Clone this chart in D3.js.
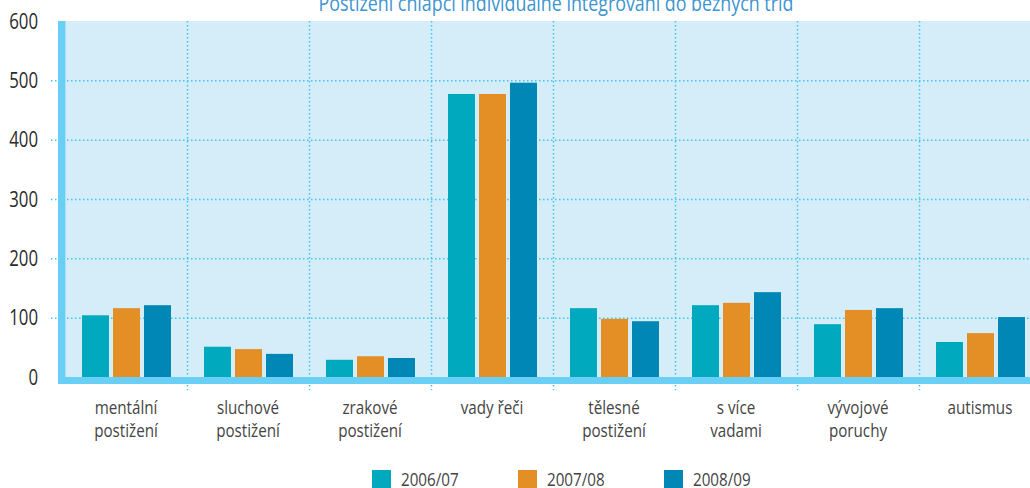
<!DOCTYPE html>
<html>
<head>
<meta charset="utf-8">
<script src="https://cdn.jsdelivr.net/npm/d3@7"></script>
<style>
  html, body { margin: 0; padding: 0; background: #fff; }
  svg { display: block; font-family: "Open Sans", "Liberation Sans", sans-serif; }
</style>
</head>
<body>
<svg id="chart" width="1030" height="488"></svg>
<script>
// chart data
const title = "Postižení chlapci individuálně integrovaní do běžných tříd";
const categories = [
    ["mentální", "postižení"],
    ["sluchové", "postižení"],
    ["zrakové", "postižení"],
    ["vady řeči"],
    ["tělesné", "postižení"],
    ["s více", "vadami"],
    ["vývojové", "poruchy"],
    ["autismus"]
];
const seriesNames = ["2006/07", "2007/08", "2008/09"];
const values2006 = [104, 51, 29, 477, 116, 121, 89, 59];
const values2007 = [116, 47, 35, 477, 98, 125, 113, 74];
const values2008 = [121, 39, 32, 496, 94, 143, 116, 101];
const yTicks = [0, 100, 200, 300, 400, 500, 600];

const colors = ["#00a9bd", "#e38f26", "#0087b5"];
const allValues = [values2006, values2007, values2008];

// the original uses a condensed face, so squeeze the text horizontally
const squeeze = 0.8;
const place = (x, y, k = squeeze) => `translate(${x},${y}) scale(${k},1)`;

const svg = d3.select("#chart");

// plot frame
const plotLeft = 65, plotRight = 1041, plotTop = 21, plotBottom = 377;

const x = d3.scaleBand()
    .domain(d3.range(categories.length))
    .range([plotLeft, plotRight])
    .paddingInner(0)
    .paddingOuter(0);

const xInner = d3.scaleBand()
    .domain(d3.range(seriesNames.length))
    .range([17, 106])
    .paddingInner(0.129)
    .paddingOuter(0);

const y = d3.scaleLinear()
    .domain([0, 600])
    .range([plotBottom, plotTop]);

// background
svg.append("rect")
    .attr("x", plotLeft)
    .attr("y", plotTop)
    .attr("width", 1030 - plotLeft)
    .attr("height", plotBottom - plotTop)
    .attr("fill", "#d5ecf9");

// horizontal grid
svg.append("g")
    .selectAll("line")
    .data(yTicks.filter(d => d > 0 && d < 600))
    .join("line")
    .attr("x1", 51)
    .attr("x2", 1030)
    .attr("y1", d => y(d) + 0.5)
    .attr("y2", d => y(d) + 0.5)
    .attr("stroke", "#3fc6ef")
    .attr("stroke-width", 1.5)
    .attr("stroke-dasharray", "1.5,2.5");

// vertical grid at category boundaries
svg.append("g")
    .selectAll("line")
    .data(d3.range(1, categories.length))
    .join("line")
    .attr("x1", d => x(d) + 0.5)
    .attr("x2", d => x(d) + 0.5)
    .attr("y1", plotTop)
    .attr("y2", 390)
    .attr("stroke", "#3fc6ef")
    .attr("stroke-width", 1.5)
    .attr("stroke-dasharray", "1.5,2.5");

// bars
const groups = svg.append("g")
    .selectAll("g")
    .data(categories)
    .join("g")
    .attr("transform", (d, i) => `translate(${x(i)},0)`);

groups.selectAll("rect")
    .data((d, i) => allValues.map((vals, s) => ({ s, v: vals[i] })))
    .join("rect")
    .attr("x", d => xInner(d.s))
    .attr("width", xInner.bandwidth())
    .attr("y", d => y(d.v))
    .attr("height", d => y(0) - y(d.v))
    .attr("fill", d => colors[d.s]);

// axis bands
svg.append("rect")
    .attr("x", 58)
    .attr("y", plotTop)
    .attr("width", 7)
    .attr("height", 384 - plotTop)
    .attr("fill", "#6acff5");
svg.append("rect")
    .attr("x", 58)
    .attr("y", plotBottom)
    .attr("width", 1030 - 58)
    .attr("height", 7)
    .attr("fill", "#6acff5");
svg.append("line")
    .attr("x1", 65.5).attr("x2", 65.5)
    .attr("y1", plotTop).attr("y2", plotBottom)
    .attr("stroke", "#a8e1f8")
    .attr("stroke-width", 1);

// y tick labels
svg.append("g")
    .selectAll("text")
    .data(yTicks)
    .join("text")
    .attr("transform", d => place(38, y(d)))
    .attr("dy", "0.36em")
    .attr("text-anchor", "end")
    .attr("font-size", 21)
    .attr("fill", "#2b2b2b")
    .text(d => d);

// category labels
const labels = svg.append("g")
    .selectAll("text")
    .data(categories)
    .join("text")
    .attr("transform", (d, i) => place(x(i) + 61, 407))
    .attr("text-anchor", "middle")
    .attr("font-size", 19)
    .attr("fill", "#444");
labels.selectAll("tspan")
    .data(d => d)
    .join("tspan")
    .attr("x", 0)
    .attr("dy", (d, i) => i === 0 ? "0.36em" : 23)
    .text(d => d);

// title (partly cut off at the top)
svg.append("text")
    .attr("transform", place(556, 11, 0.85))
    .attr("text-anchor", "middle")
    .attr("font-size", 21)
    .attr("fill", "#3a95d0")
    .text(title);

// legend
const legendX = [372, 518, 664];
const legend = svg.append("g")
    .selectAll("g")
    .data(seriesNames)
    .join("g")
    .attr("transform", (d, i) => `translate(${legendX[i]},470)`);
legend.append("rect")
    .attr("width", 19)
    .attr("height", 19)
    .attr("fill", (d, i) => colors[i]);
legend.append("text")
    .attr("transform", place(29, 9))
    .attr("dy", "0.36em")
    .attr("font-size", 19)
    .attr("fill", "#444")
    .text(d => d);
</script>
</body>
</html>
